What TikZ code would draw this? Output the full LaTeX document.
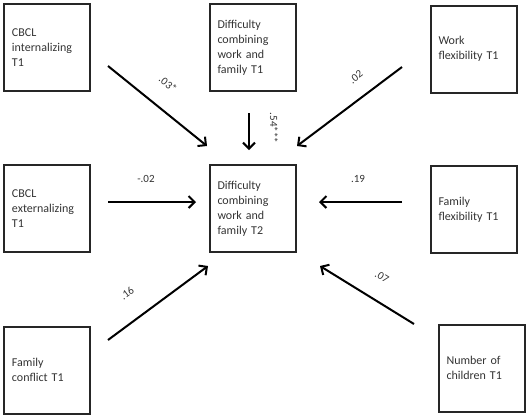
\documentclass[tikz,border=0pt]{standalone}
\usepackage{fontspec}
\setmainfont{Carlito}
\usetikzlibrary{arrows.meta}
\begin{document}
\begin{tikzpicture}[x=1pt,y=-1pt,
  vbox/.style={draw=black!85,line width=2pt,minimum width=86pt,minimum height=87pt,
    inner xsep=8pt,inner ysep=0pt,text width=70pt,align=left,font=\fontsize{12}{15}\selectfont,
    text=black!80},
  arr/.style={line width=2pt,-{Straight Barb[length=6pt,width=12pt]}},
  lab/.style={font=\fontsize{11}{13}\selectfont,text=black!80,inner sep=1pt}]
\useasboundingbox (0,0) rectangle (528,416);
\node[vbox] (int) at (47,47.5) {CBCL\\internalizing\\T1};
\node[vbox] (d1) at (252.5,47.5) {Difficulty\\combining\\work and\\family T1};
\node[vbox] (wf) at (473.5,49) {Work\\flexibility T1};
\node[vbox,minimum height=87pt] (ext) at (47,208.5) {CBCL\\externalizing\\T1};
\node[vbox] (t2) at (252.5,208.5) {Difficulty\\combining\\work and\\family T2};
\node[vbox] (ff) at (473.5,209.5) {Family\\flexibility T1};
\node[vbox] (fc) at (47,370) {Family\\conflict T1};
\node[vbox] (nc) at (481.5,368) {Number of\\children T1};
% free ends of connectors
\coordinate (s1) at (108,66);  \coordinate (e1) at (207,146);
\coordinate (s2) at (249,113); \coordinate (e2) at (249,150);
\coordinate (s3) at (402,67);  \coordinate (e3) at (297,146);
\coordinate (s4) at (108,202); \coordinate (e4) at (196,202);
\coordinate (s5) at (402,202); \coordinate (e5) at (319,202);
\coordinate (s6) at (108,340); \coordinate (e6) at (208,266);
\coordinate (s7) at (414,324); \coordinate (e7) at (320,266);
\draw[arr] (s1) -- (e1);
\draw[arr] (s2) -- (e2);
\draw[arr] (s3) -- (e3);
\draw[arr] (s4) -- (e4);
\draw[arr] (s5) -- (e5);
\draw[arr] (s6) -- (e6);
\draw[arr] (s7) -- (e7);
\node[lab,rotate=-39] (l1) at (168,84) {.03*};
\node[lab,rotate=-90] (l2) at (274,128) {.54***};
\node[lab,rotate=37] (l3) at (356,77) {.02};
\node[lab] (l4) at (146,179) {-.02};
\node[lab] (l5) at (358,179) {.19};
\node[lab,rotate=36.5] (l6) at (127,293) {.16};
\node[lab,rotate=-32] (l7) at (382,277) {.07};
\end{tikzpicture}
\end{document}
